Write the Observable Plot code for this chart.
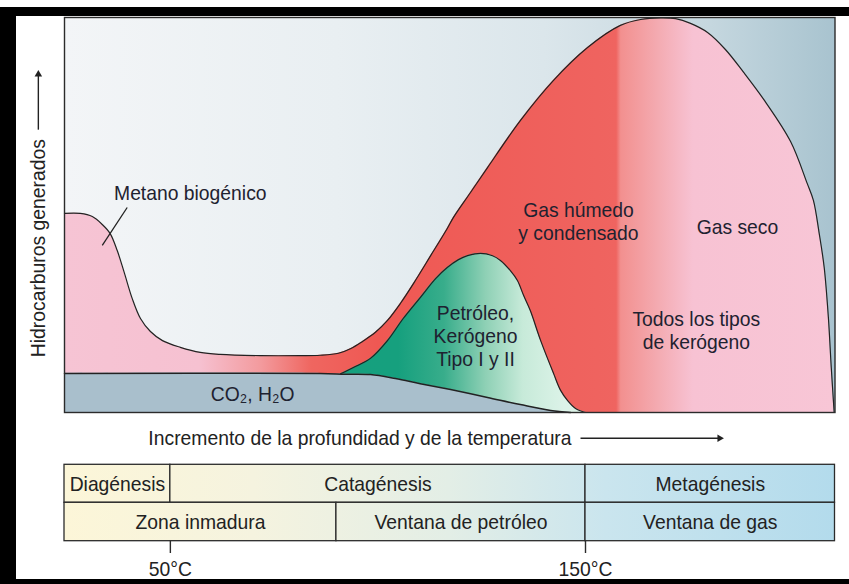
<!DOCTYPE html>
<html><head><meta charset="utf-8">
<script src="https://cdn.jsdelivr.net/npm/d3@7"></script>
<script src="https://cdn.jsdelivr.net/npm/@observablehq/plot@0.6"></script>
<style>
html,body{margin:0;padding:0;background:#fff;}
#wrap{margin-top:7px;border-top:9px solid #000;border-left:16px solid #000;border-bottom:5px solid #000;width:833px;height:563px;overflow:hidden;background:#fff;}
#wrap svg{display:block;}
</style></head><body><div id="wrap"></div>
<script>
// ---- data (x: temperature °C, y: relative hydrocarbons generated 0-100) ----
const outlineT = [24.5, 28.3, 31.2, 33.6, 35.5, 37.2, 38.9, 40.8, 42.8, 45.2, 48.1, 52.4, 57.2, 62.0, 71.7, 81.3, 86.1, 90.5, 93.5, 96.3, 99.4, 102.3, 105.4, 108.6, 112.7, 116.7, 118.2, 122.3, 126.4, 134.3, 142.3, 150.5, 158.4, 163.3, 168.1, 171.7, 175.3, 179.4, 183.7, 188.1, 193.1, 199.4, 203.4, 204.9, 206.3, 207.5, 208.5, 209.2, 209.9];
const outlineV = [50.4, 50.4, 49.6, 47.6, 45.3, 41.0, 35.4, 28.9, 23.8, 20.5, 18.2, 16.5, 15.2, 14.7, 14.4, 14.4, 14.5, 15.0, 16.2, 18.0, 20.3, 23.3, 27.6, 32.7, 39.7, 46.6, 49.4, 55.7, 62.0, 73.9, 84.1, 92.4, 98.0, 99.5, 99.9, 99.7, 98.5, 96.2, 91.9, 86.1, 79.0, 68.6, 58.0, 53.7, 45.3, 36.7, 24.1, 11.4, 0];
const oilT = [91.0, 94.1, 98.2, 102.3, 106.1, 110.2, 113.9, 116.7, 119.4, 121.6, 124.7, 127.6, 129.5, 131.9, 133.6, 135.1, 136.7, 139.2, 142.3, 144.0, 145.7, 147.6, 150.0];
const oilV = [9.8, 11.4, 13.7, 18.2, 23.8, 29.1, 33.9, 36.7, 38.7, 39.7, 40.3, 39.7, 38.5, 35.9, 33.4, 29.6, 25.8, 18.2, 9.9, 5.6, 3.0, 1.0, 0];
const co2T = [24.5, 86.1, 92.2, 98.2, 104.2, 110.2, 117.5, 126.4, 134.3, 141.6, 146.4];
const co2V = [9.9, 9.9, 9.7, 9.6, 8.6, 7.3, 5.8, 3.8, 2.0, 0.5, 0];

const labelText = ["Metano biogénico", "Gas húmedo\ny condensado", "Gas seco", "Todos los tipos\nde kerógeno", "Petróleo,\nKerógeno\nTipo I y II", "CO₂, H₂O"];
const labelT = [54.8, 148.3, 186.6, 176.7, 123.5, 69.8];
const labelV = [55.7, 48.5, 47.1, 20.8, 19.5, 4.8];

const stageNames = ["Diagénesis", "Catagénesis", "Metagénesis"];
const stageStart = [24.5, 50, 150];
const stageEnd = [50, 150, 210.1];
const zoneNames = ["Zona inmadura", "Ventana de petróleo", "Ventana de gas"];
const zoneStart = [24.5, 90, 150];
const zoneEnd = [90, 150, 210.1];
const tempTicks = [50, 150];
const tempLabels = ["50°C", "150°C"];

const xTitle = "Incremento de la profundidad y de la temperatura";
const yTitle = "Hidrocarburos generados";

// ---- layout ----
const X0 = 24.5, X1 = 210.1;
const W = 833, H = 563;
const mL = 48, mR = 14.5, mT = 1, mB = 167;
const xs = d3.scaleLinear([X0, X1], [mL, W - mR]);
const font = "'Liberation Sans', Arial, sans-serif";
const ink = "#222";
const fs = 21;
const squeeze = 0.92;

const outline = outlineT.map((t, i) => ({t, v: outlineV[i]}));
const oil = oilT.map((t, i) => ({t, v: oilV[i]}));
const co2 = co2T.map((t, i) => ({t, v: co2V[i]}));
const labels = labelText.map((s, i) => ({s, t: labelT[i], v: labelV[i]}));
const row1 = [-13.24, -22.86], row2 = [-22.86, -32.58];
const stages = stageNames.map((s, i) => ({s, a: stageStart[i], b: stageEnd[i]}));
const zones = zoneNames.map((s, i) => ({s, a: zoneStart[i], b: zoneEnd[i]}));
const ticks = tempTicks.map((t, i) => ({t, s: tempLabels[i]}));

const xTitleY = -6.5;
const svg = Plot.plot({
  width: W, height: H,
  marginLeft: mL, marginRight: mR, marginTop: mT, marginBottom: mB,
  x: {domain: [X0, X1], axis: null},
  y: {domain: [0, 100], axis: null},
  style: {fontFamily: font, background: "transparent", color: ink},
  marks: [
    Plot.frame({fill: "url(#bgGrad)", stroke: "none"}),
    Plot.areaY(outline, {x: "t", y: "v", curve: "catmull-rom", fill: "url(#gasGrad)"}),
    Plot.areaY(oil, {x: "t", y: "v", curve: "catmull-rom", fill: "url(#oilGrad)"}),
    Plot.areaY(co2, {x: "t", y: "v", curve: "catmull-rom", fill: "#a9bfcc"}),
    Plot.line(co2, {x: "t", y: "v", curve: "catmull-rom", stroke: ink, strokeWidth: 1.5}),
    Plot.line(oil, {x: "t", y: "v", curve: "catmull-rom", stroke: ink, strokeWidth: 1.2}),
    Plot.line(outline, {x: "t", y: "v", curve: "catmull-rom", stroke: ink, strokeWidth: 1.2}),
    Plot.frame({stroke: "#2b2b2b", strokeWidth: 1.4}),
    // labels inside plot
    Plot.text(labels, {x: "t", y: "v", text: "s", fontSize: fs, lineHeight: 1.1, fill: "#1e2230"}),
    Plot.link([0], {x1: 39.6, y1: 51.9, x2: 33.6, y2: 42.3, stroke: ink, strokeWidth: 1.3}),
    // x title + arrow
    Plot.text([xTitle], {x: 44.7, y: xTitleY, text: d => d, textAnchor: "start", fontSize: fs, fill: ink}),
    Plot.link([0], {x1: 148.8, y1: xTitleY, x2: 182.5, y2: xTitleY, stroke: ink, strokeWidth: 1.4}),
    Plot.dot([0], {x: 182.3, y: xTitleY, symbol: "triangle2", r: 3.6, rotate: 90, fill: ink, stroke: "none"}),
    // y title + arrow
    Plot.text([yTitle], {x: 18.2, y: 41.6, text: d => d, rotate: -90, fontSize: fs, fill: ink}),
    Plot.link([0], {x1: 18.2, y1: 71.6, x2: 18.2, y2: 86.0, stroke: ink, strokeWidth: 1.4}),
    Plot.dot([0], {x: 18.2, y: 85.6, symbol: "triangle2", r: 3.6, fill: ink, stroke: "none"}),
    // stage table
    Plot.rect(stages, {x1: "a", x2: "b", y1: row1[0], y2: row1[1], fill: "url(#tabGrad)", stroke: "#2b2b2b", strokeWidth: 1.3}),
    Plot.rect(zones, {x1: "a", x2: "b", y1: row2[0], y2: row2[1], fill: "url(#tabGrad)", stroke: "#2b2b2b", strokeWidth: 1.3}),
    Plot.text(stages, {x: d => (d.a + d.b) / 2, y: (row1[0] + row1[1]) / 2, text: "s", fontSize: fs, fill: ink}),
    Plot.text(zones, {x: d => (d.a + d.b) / 2, y: (row2[0] + row2[1]) / 2, text: "s", fontSize: fs, fill: ink}),
    Plot.ruleX(ticks, {x: "t", y1: row2[1], y2: -35.7, stroke: "#2b2b2b", strokeWidth: 1.4}),
    Plot.text(ticks, {x: "t", y: -39.6, text: "s", fontSize: fs, fill: ink})
  ]
});

// gradients (colour styles), positioned through the x scale
const NS = "http://www.w3.org/2000/svg";
const defs = document.createElementNS(NS, "defs");
function grad(id, stops) {
  const g = document.createElementNS(NS, "linearGradient");
  g.setAttribute("id", id);
  g.setAttribute("gradientUnits", "userSpaceOnUse");
  g.setAttribute("x1", xs(X0)); g.setAttribute("x2", xs(X1));
  g.setAttribute("y1", 0); g.setAttribute("y2", 0);
  for (const [t, c] of stops) {
    const s = document.createElementNS(NS, "stop");
    s.setAttribute("offset", (t - X0) / (X1 - X0));
    s.setAttribute("stop-color", c);
    g.appendChild(s);
  }
  defs.appendChild(g);
}
grad("bgGrad", [[24.5, "#f3f5f7"], [90, "#e9eff2"], [140, "#dbe6eb"], [180, "#c5d7df"], [210.1, "#a8c3cf"]]);
grad("gasGrad", [[24.5, "#f6c4d4"], [57, "#f6c1d1"], [72, "#f39a9d"], [84, "#ef6660"], [100, "#ef5853"], [157.5, "#ef6460"], [158.6, "#f2908f"], [168, "#f4acb3"], [176, "#f7c2d3"], [210.1, "#f8c6d6"]]);
grad("oilGrad", [[24.5, "#14a07e"], [105, "#16a07e"], [116, "#38ad8b"], [126, "#8ed0b5"], [135, "#c7ead9"], [145, "#dcf3e8"], [210.1, "#dcf3e8"]]);
grad("tabGrad", [[24.5, "#fcf6d8"], [70, "#f5f3df"], [117, "#e3eee6"], [155, "#cae5ee"], [210.1, "#b3dbec"]]);
svg.insertBefore(defs, svg.firstChild);
document.getElementById("wrap").appendChild(svg);

// narrow the lettering like the condensed typeface of the original
svg.querySelectorAll("text").forEach(t => {
  const spans = t.querySelectorAll("tspan");
  const els = spans.length ? Array.from(spans) : [t];
  els.forEach(el => {
    const L = el.getComputedTextLength();
    if (L > 0) {
      el.setAttribute("textLength", (L * squeeze).toFixed(1));
      el.setAttribute("lengthAdjust", "spacingAndGlyphs");
    }
  });
});
</script></body></html>
